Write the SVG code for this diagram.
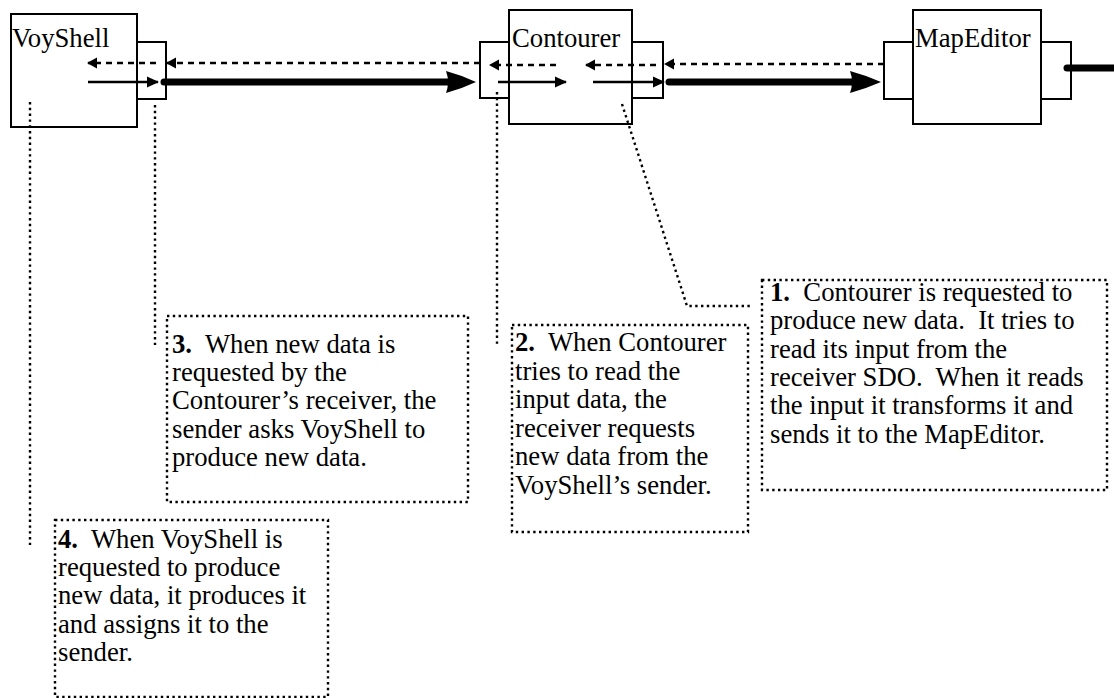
<svg xmlns="http://www.w3.org/2000/svg" width="1114" height="698" viewBox="0 0 1114 698">
<defs>
<style>
.box{fill:#fff;stroke:#000;stroke-width:2}
.port{fill:#fff;stroke:#000;stroke-width:2}
text{font-family:'Liberation Serif','Times New Roman',serif;font-size:26.7px;fill:#000}
.note{white-space:pre}
.dash{fill:none;stroke:#000;stroke-width:2.5;stroke-dasharray:6 5}
.thin{fill:none;stroke:#000;stroke-width:2.5}
.thick{fill:none;stroke:#000;stroke-width:7;stroke-linecap:round}
.dot{fill:none;stroke:#000;stroke-width:2.4;stroke-dasharray:2.4 3.4}
.nbox{fill:none;stroke:#000;stroke-width:2.4;stroke-dasharray:2.4 3.4}
</style>
<marker id="dh" markerUnits="userSpaceOnUse" markerWidth="12" markerHeight="12" viewBox="0 -6 10 12" refX="9" refY="0" orient="auto">
<path d="M0,-5.5 L10,0 L0,5.5 Z" fill="#000"/>
</marker>
<marker id="th" markerUnits="userSpaceOnUse" markerWidth="12" markerHeight="12" viewBox="0 -6 12 12" refX="11" refY="0" orient="auto">
<path d="M0,-5.5 L12,0 L0,5.5 Z" fill="#000"/>
</marker>
</defs>

<g id="voyshell">
<rect class="port" x="137" y="42" width="29" height="57"/>
<rect class="box" x="11" y="14" width="126" height="113"/>
<text x="12" y="47">VoyShell</text>
</g>

<g id="contourer">
<rect class="port" x="480" y="42" width="29" height="56"/>
<rect class="port" x="632" y="42" width="31" height="56"/>
<rect class="box" x="509" y="10" width="123" height="114"/>
<text x="512" y="47">Contourer</text>
</g>

<g id="mapeditor">
<rect class="port" x="884" y="42" width="29" height="57"/>
<rect class="port" x="1041" y="42" width="30" height="57"/>
<rect class="box" x="913" y="10" width="128" height="114"/>
<text x="915" y="47">MapEditor</text>
</g>

<g id="connectors">
<line class="dash" x1="156" y1="63" x2="88" y2="63" marker-end="url(#dh)"/>
<line class="dash" x1="480" y1="63" x2="167" y2="63" marker-end="url(#dh)"/>
<line class="dash" x1="556" y1="65" x2="490" y2="65" marker-end="url(#dh)"/>
<line class="dash" x1="656" y1="65" x2="586" y2="65" marker-end="url(#dh)"/>
<line class="dash" x1="884" y1="64" x2="665" y2="64" marker-end="url(#dh)"/>
<line class="thin" x1="88" y1="82" x2="158" y2="82" marker-end="url(#th)"/>
<line class="thin" x1="498" y1="82" x2="566" y2="82" marker-end="url(#th)"/>
<line class="thin" x1="593" y1="82" x2="664" y2="82" marker-end="url(#th)"/>
<line class="thick" x1="164" y1="82" x2="450" y2="82"/>
<path d="M446,71 Q461,75 476,82 Q461,89 446,93 Q450,82 446,71 Z" fill="#000"/>
<line class="thick" x1="669" y1="82" x2="854" y2="82"/>
<path d="M850,71 Q865,75 881,82 Q865,89 850,93 Q854,82 850,71 Z" fill="#000"/>
<line class="thick" x1="1067" y1="68" x2="1118" y2="68"/>
<line class="dot" x1="30" y1="102" x2="30" y2="545"/>
<line class="dot" x1="155" y1="105" x2="155" y2="345"/>
<line class="dot" x1="497" y1="92" x2="497" y2="347"/>
<polyline class="dot" points="622,104 687,306 752,306"/>
</g>

<g id="note1">
<rect class="nbox" x="762" y="280" width="345" height="210"/>
<text class="note" x="770" y="301"><tspan font-weight="bold">1.</tspan>  Contourer is requested to</text>
<text class="note" x="770" y="329">produce new data.  It tries to</text>
<text class="note" x="770" y="358">read its input from the</text>
<text class="note" x="770" y="386">receiver SDO.  When it reads</text>
<text class="note" x="770" y="414">the input it transforms it and</text>
<text class="note" x="770" y="443">sends it to the MapEditor.</text>
</g>

<g id="note2">
<rect class="nbox" x="512" y="325" width="236" height="207"/>
<text class="note" x="515" y="351"><tspan font-weight="bold">2.</tspan>  When Contourer</text>
<text class="note" x="515" y="380">tries to read the</text>
<text class="note" x="515" y="408">input data, the</text>
<text class="note" x="515" y="437">receiver requests</text>
<text class="note" x="515" y="465">new data from the</text>
<text class="note" x="515" y="494">VoyShell’s sender.</text>
</g>

<g id="note3">
<rect class="nbox" x="167" y="316" width="301" height="186"/>
<text class="note" x="172" y="353"><tspan font-weight="bold">3.</tspan>  When new data is</text>
<text class="note" x="172" y="381">requested by the</text>
<text class="note" x="172" y="409">Contourer’s receiver, the</text>
<text class="note" x="172" y="438">sender asks VoyShell to</text>
<text class="note" x="172" y="466">produce new data.</text>
</g>

<g id="note4">
<rect class="nbox" x="55" y="520" width="273" height="177"/>
<text class="note" x="58" y="548"><tspan font-weight="bold">4.</tspan>  When VoyShell is</text>
<text class="note" x="58" y="576">requested to produce</text>
<text class="note" x="58" y="604">new data, it produces it</text>
<text class="note" x="58" y="633">and assigns it to the</text>
<text class="note" x="58" y="661">sender.</text>
</g>
</svg>
